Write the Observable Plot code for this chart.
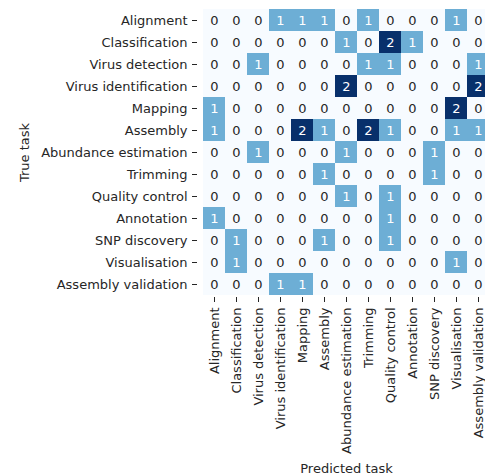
<!DOCTYPE html>
<html>
<head>
<meta charset="utf-8">
<script src="https://cdn.jsdelivr.net/npm/d3@7"></script>
<script src="https://cdn.jsdelivr.net/npm/@observablehq/plot@0.6"></script>
<style>
  html, body { margin: 0; padding: 0; overflow: hidden; background: #fff; }
  #chart { width: 485px; height: 476px; overflow: hidden; }
  #chart svg { display: block; max-width: none !important; width: 495px !important; height: 476px !important; }
  #chart svg text { font-family: "DejaVu Sans", sans-serif !important; font-size: 13px !important; }
</style>
</head>
<body>
<div id="chart"></div>
<script>
const tasks = [
  "Alignment", "Classification", "Virus detection", "Virus identification",
  "Mapping", "Assembly", "Abundance estimation", "Trimming",
  "Quality control", "Annotation", "SNP discovery", "Visualisation",
  "Assembly validation"
];

// rows = true task, columns = predicted task (same order as tasks)
const counts = [
  [0, 0, 0, 1, 1, 1, 0, 1, 0, 0, 0, 1, 0],
  [0, 0, 0, 0, 0, 0, 1, 0, 2, 1, 0, 0, 0],
  [0, 0, 1, 0, 0, 0, 0, 1, 1, 0, 0, 0, 1],
  [0, 0, 0, 0, 0, 0, 2, 0, 0, 0, 0, 0, 2],
  [1, 0, 0, 0, 0, 0, 0, 0, 0, 0, 0, 2, 0],
  [1, 0, 0, 0, 2, 1, 0, 2, 1, 0, 0, 1, 1],
  [0, 0, 1, 0, 0, 0, 1, 0, 0, 0, 1, 0, 0],
  [0, 0, 0, 0, 0, 1, 0, 0, 0, 0, 1, 0, 0],
  [0, 0, 0, 0, 0, 0, 1, 0, 1, 0, 0, 0, 0],
  [1, 0, 0, 0, 0, 0, 0, 0, 1, 0, 0, 0, 0],
  [0, 1, 0, 0, 0, 1, 0, 0, 1, 0, 0, 0, 0],
  [0, 1, 0, 0, 0, 0, 0, 0, 0, 0, 0, 1, 0],
  [0, 0, 0, 1, 1, 0, 0, 0, 0, 0, 0, 0, 0]
];

const cells = [];
counts.forEach((row, i) => row.forEach((v, j) => cells.push({
  trueTask: tasks[i], predTask: tasks[j], value: v
})));

const font = "DejaVu Sans, sans-serif";
const ink = "#262626";

const chart = Plot.plot({
  width: 495,
  height: 476,
  marginLeft: 197,
  marginRight: 0,
  marginTop: 7,
  marginBottom: 179,
  style: { fontFamily: font, fontSize: "13px", color: ink, background: "white" },
  x: { domain: tasks, padding: 0 },
  y: { domain: tasks, padding: 0 },
  color: { type: "linear", domain: [0, 2], interpolate: d3.interpolateBlues },
  marks: [
    Plot.cell(cells, { x: "predTask", y: "trueTask", fill: "value", inset: 0 }),
    Plot.text(cells.filter(d => d.value < 1), {
      x: "predTask", y: "trueTask", text: d => String(d.value),
      fill: ink, fontSize: 13
    }),
    Plot.text(cells.filter(d => d.value >= 1), {
      x: "predTask", y: "trueTask", text: d => String(d.value),
      fill: "white", fontSize: 13
    }),
    Plot.axisX({
      anchor: "bottom", tickRotate: -90, tickSize: 5, tickPadding: 5,
      label: "Predicted task", labelAnchor: "center", labelOffset: 175.5,
      labelArrow: "none", fontSize: 13
    }),
    Plot.axisY({
      anchor: "left", tickSize: 5, tickPadding: 5,
      label: "True task", labelAnchor: "center", labelOffset: 178,
      labelArrow: "none", fontSize: 13
    })
  ]
});

document.getElementById("chart").appendChild(chart);
</script>
</body>
</html>
